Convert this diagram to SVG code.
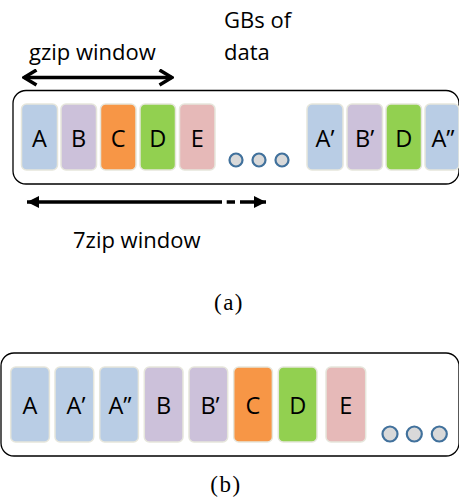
<svg xmlns="http://www.w3.org/2000/svg" width="459" height="499" viewBox="0 0 459 499">
<defs>
<style>
.frame{fill:#fff;stroke:#000;stroke-width:1.3}
.blk{stroke:#e6e6dc;stroke-width:1.5}
.bl{fill:#b9cde5}.pu{fill:#ccc1da}.or{fill:#f79646}.gr{fill:#92d050}.pk{fill:#e6b9b8}
.lt{font-family:"Open Sans","Liberation Sans",sans-serif;font-size:23.5px;fill:#000;text-anchor:middle}
.lb{font-family:"Open Sans","Liberation Sans",sans-serif;font-size:22px;fill:#000}
.cap{font-family:"Liberation Serif","Times New Roman",serif;font-size:23px;letter-spacing:1.5px;fill:#000;text-anchor:middle}
.dot{fill:#d9d9d9;stroke:#41719c;stroke-width:2.2}
.arr{stroke:#000;stroke-width:3.5;fill:none}
</style>
<marker id="ah" viewBox="0 0 16 18" refX="14" refY="9" markerWidth="16" markerHeight="18" markerUnits="userSpaceOnUse" orient="auto-start-reverse">
<path d="M1.5,1.5 L14,9 L1.5,16.5" fill="none" stroke="#000" stroke-width="3.5" stroke-linejoin="miter"/>
</marker>
<marker id="tri" viewBox="0 0 12 12" refX="12" refY="6" markerWidth="12" markerHeight="12" markerUnits="userSpaceOnUse" orient="auto-start-reverse">
<path d="M0,0 L12,6 L0,12 Z" fill="#000"/>
</marker>
</defs>

<g id="labels-a">
<text class="lb" x="224" y="28">GBs of</text>
<text class="lb" x="224" y="60">data</text>
<text class="lb" x="29" y="60">gzip window</text>
<text class="lb" x="73" y="248">7zip window</text>
<text class="cap" x="229" y="310">(a)</text>
</g>

<g id="connectors">
<line class="arr" x1="24" y1="77.5" x2="172" y2="77.5" marker-start="url(#ah)" marker-end="url(#ah)"/>
<line x1="27" y1="202" x2="222" y2="202" stroke="#000" stroke-width="3.5" marker-start="url(#tri)"/>
<line x1="226.7" y1="202" x2="235" y2="202" stroke="#000" stroke-width="3.5"/>
<line x1="240" y1="202" x2="254.3" y2="202" stroke="#000" stroke-width="3.5"/>
<line x1="260" y1="202" x2="266" y2="202" stroke="#000" stroke-width="3.5" marker-end="url(#tri)"/>
</g>

<g id="stream-a">
<rect class="frame" x="13" y="90.5" width="446" height="93.5" rx="13"/>
<g id="a-A"><rect class="blk bl" x="21.5" y="104" width="36" height="66" rx="5"/><text class="lt" x="39.5" y="147">A</text></g>
<g id="a-B"><rect class="blk pu" x="61" y="104" width="35.5" height="66" rx="5"/><text class="lt" x="78.7" y="147">B</text></g>
<g id="a-C"><rect class="blk or" x="100.5" y="104" width="35.5" height="66" rx="5"/><text class="lt" x="118.2" y="147">C</text></g>
<g id="a-D"><rect class="blk gr" x="140" y="104" width="35.5" height="66" rx="5"/><text class="lt" x="157.7" y="147">D</text></g>
<g id="a-E"><rect class="blk pk" x="179.5" y="104" width="35.5" height="66" rx="5"/><text class="lt" x="197.2" y="147">E</text></g>
<g id="a-dots"><circle class="dot" cx="236" cy="160" r="6.5"/><circle class="dot" cx="259" cy="160" r="6.5"/><circle class="dot" cx="282" cy="160" r="6.5"/></g>
<g id="a-A1"><rect class="blk bl" x="307" y="104" width="36" height="66" rx="5"/><text class="lt" x="325" y="147">A’</text></g>
<g id="a-B1"><rect class="blk pu" x="347" y="104" width="35.5" height="66" rx="5"/><text class="lt" x="364.7" y="147">B’</text></g>
<g id="a-D2"><rect class="blk gr" x="386" y="104" width="35.5" height="66" rx="5"/><text class="lt" x="403.7" y="147">D</text></g>
<g id="a-A2"><rect class="blk bl" x="425" y="104" width="34" height="66" rx="5"/><text class="lt" x="443" y="147">A”</text></g>
</g>

<g id="stream-b">
<rect class="frame" x="1" y="353" width="458" height="103" rx="13"/>
<g id="b-A"><rect class="blk bl" x="10.7" y="367" width="38.7" height="75" rx="5"/><text class="lt" x="30" y="414">A</text></g>
<g id="b-A1"><rect class="blk bl" x="55" y="367" width="38.7" height="75" rx="5"/><text class="lt" x="76" y="414">A’</text></g>
<g id="b-A2"><rect class="blk bl" x="99.7" y="367" width="38.7" height="75" rx="5"/><text class="lt" x="120" y="414">A”</text></g>
<g id="b-B"><rect class="blk pu" x="144.3" y="367" width="38.7" height="75" rx="5"/><text class="lt" x="163.7" y="414">B</text></g>
<g id="b-B1"><rect class="blk pu" x="189" y="367" width="38.7" height="75" rx="5"/><text class="lt" x="210" y="414">B’</text></g>
<g id="b-C"><rect class="blk or" x="233.7" y="367" width="38.7" height="75" rx="5"/><text class="lt" x="253" y="414">C</text></g>
<g id="b-D"><rect class="blk gr" x="278.3" y="367" width="38.7" height="75" rx="5"/><text class="lt" x="297.7" y="414">D</text></g>
<g id="b-E"><rect class="blk pk" x="326" y="367" width="39.7" height="75" rx="5"/><text class="lt" x="345.8" y="414">E</text></g>
<g id="b-dots"><circle class="dot" cx="390" cy="434" r="7.5"/><circle class="dot" cx="414.3" cy="434" r="7.5"/><circle class="dot" cx="439.3" cy="434" r="7.5"/></g>
</g>

<g id="label-b"><text class="cap" x="226" y="492">(b)</text></g>
</svg>
